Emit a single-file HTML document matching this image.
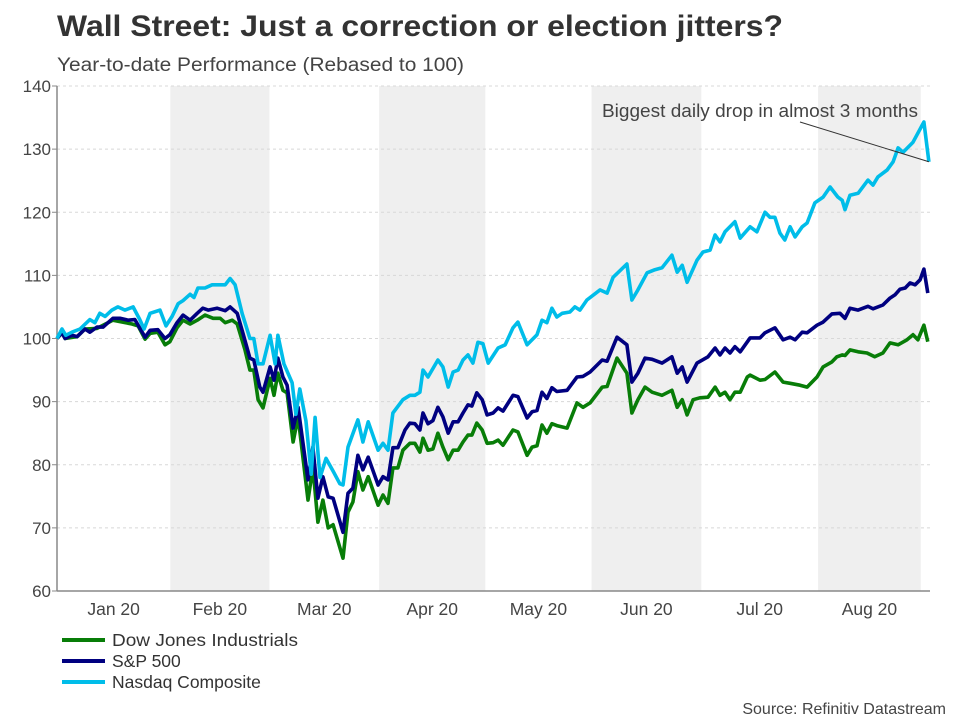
<!DOCTYPE html>
<html><head><meta charset="utf-8"><style>
body{margin:0;background:#fff;font-family:"Liberation Sans",sans-serif;}
svg{display:block}
</style></head><body>
<svg id="chart" width="960" height="720" viewBox="0 0 960 720" xmlns="http://www.w3.org/2000/svg">
<rect width="960" height="720" fill="#fff"/>
<text x="57" y="36" font-size="30" font-weight="bold" fill="#333" textLength="726" lengthAdjust="spacingAndGlyphs" font-family="Liberation Sans, sans-serif">Wall Street: Just a correction or election jitters?</text>
<text x="57" y="71" font-size="19" fill="#444" textLength="407" lengthAdjust="spacingAndGlyphs" font-family="Liberation Sans, sans-serif">Year-to-date Performance (Rebased to 100)</text>
<g id="bands"></g><g id="grid"></g><g id="axes"></g><g id="series"></g>
<text x="602" y="117" font-size="18.5" fill="#444" textLength="316" lengthAdjust="spacingAndGlyphs" font-family="Liberation Sans, sans-serif">Biggest daily drop in almost 3 months</text>
<g>
<line x1="62" y1="640" x2="105" y2="640" stroke="#087d08" stroke-width="4"/>
<text x="112" y="646" font-size="17.5" fill="#333" textLength="186" lengthAdjust="spacingAndGlyphs" font-family="Liberation Sans, sans-serif">Dow Jones Industrials</text>
<line x1="62" y1="661" x2="105" y2="661" stroke="#000080" stroke-width="4"/>
<text x="112" y="667" font-size="17.5" fill="#333" font-family="Liberation Sans, sans-serif">S&amp;P 500</text>
<line x1="62" y1="682" x2="105" y2="682" stroke="#00bde9" stroke-width="4"/>
<text x="112" y="688" font-size="17.5" fill="#333" font-family="Liberation Sans, sans-serif">Nasdaq Composite</text>
</g>
<text x="946" y="714" text-anchor="end" font-size="16" fill="#444" font-family="Liberation Sans, sans-serif">Source: Refinitiv Datastream</text>
</svg>
<script>
const yTicks=[60,70,80,90,100,110,120,130,140];
const monthLabels=["Jan 20","Feb 20","Mar 20","Apr 20","May 20","Jun 20","Jul 20","Aug 20"];
const monthStarts=[0,32,60,91,121,151,182,215,244];
const nasdaqDays=[0,1.4,2.5,4.2,6.5,9.3,10.7,12.1,13.6,15.5,17.2,19.2,21.5,23.4,24.6,26.3,29.1,30.8,32.5,34.2,35.6,37.6,38.7,39.8,41.8,43.8,47.5,48.9,50.3,52.3,54.5,55.6,56.8,58.2,60.2,61.6,62.4,64.1,66.4,67.5,68.6,70.3,71.8,72.9,74.3,76,78,79.9,80.8,82.2,85,86.4,87.9,90.7,92.1,93.5,94.9,97.7,99.7,101.1,102.5,103.4,104.8,107.6,109,110.5,111.9,113.3,114.7,116.1,117.5,118.9,120.3,121.8,124.6,126.6,128.8,130.2,132.8,135.6,137,138.4,139.8,141.2,142.7,144.9,146.3,147.7,149.7,153.4,155.4,157.1,161,162.4,164.1,166.7,168.9,170.9,173.7,175.2,176.6,178,180.8,182.5,184.5,185.9,187.3,188.7,191.5,193,195.8,197.7,200,201.4,202.8,204.2,205.6,207.1,208.5,210.5,211.9,214.1,216.4,218.4,220.6,221.8,222.6,224,226.3,229.1,230.5,231.9,234.5,236.2,237.6,239,241.8,244.9,246.3];
const nasdaqValues=[100,101.5,100.5,101,101.5,103,102.5,104,103.5,104.5,105,104.5,105,103,101.5,104,104.5,102,103.5,105.5,106,107,106.5,108,108,108.5,108.5,109.5,108.5,104,100,100,96,96,100.5,96,100.5,96,93,88,92,87,78.5,87.5,78,81,79,77,76.8,82.8,87.1,83.6,86.8,82.3,83.4,82.3,88.2,90.3,91,91,91.5,95,93.9,96.6,95.5,92.3,94.7,95,96.6,97.4,96.1,99.4,99.2,96.1,98.5,99,101.7,102.6,99,100.6,102.9,102.5,104.8,103.4,104,104.2,105,104.5,106.1,107.7,107.2,109.7,111.8,106.1,107.7,110.4,110.9,111.2,113.2,110.5,111.6,108.9,112.4,113.7,114,116.4,115.3,116.9,118.5,115.9,117.7,116.9,120,119.2,119.2,116.7,115.6,117.7,116.1,117.7,118.3,121.5,122.4,124,122.4,121.9,120.4,122.7,123,125.1,124.3,125.6,126.7,128,130.2,129.5,131.1,134.3,128];
const spDays=[0,1.4,2.3,4.2,5.7,7.9,9.3,11.3,13,15.8,17.8,20.1,22,24.9,26.3,28.5,30.5,31.9,33.9,35.6,37.6,39.6,41.2,42.7,45.2,47.5,48.9,50.9,52.5,54.5,55.6,57.3,58.2,60.2,61.3,62.4,63.8,65,66.7,68.1,70.9,72.3,73.7,75.1,76.6,78,80.8,82.2,83.6,85,86.4,87.9,90.7,92.1,93.5,94.9,96.3,98.3,99.7,101.1,102.5,103.4,104.8,106.2,107.6,109,110.5,111.9,113.3,114.7,116.1,117.2,118.6,120.1,121.5,123.2,124.6,126,128.8,130.2,132.8,134.2,135.6,137,138.4,139.8,141.2,144.1,146.9,148.6,150.6,154,155.4,158.2,161,162.4,164.1,166.1,168.1,170.9,173.7,175.2,176.6,178,180.8,183.9,185.9,187.3,188.7,190.1,191.5,193,195.8,198.6,200,202.8,205.1,207.1,208.5,210.5,211.9,214.7,216.4,218.9,221.2,222.6,224,226.3,229.1,230.5,233.3,235.3,236.7,238.1,239.6,241,242.4,243.8,244.9,246];
const spValues=[100,100.9,100,100.5,100.3,101.5,101,101.8,101.8,103.2,103.2,102.9,103,100.2,101.3,101.4,100,100.6,102.5,103.7,102.9,104,104.8,104.5,104.8,104.4,105,104,100.9,96.9,96.6,92.3,91.5,95.5,93.4,96.9,93.9,92.6,85.8,89.1,77.6,82.8,74.7,78.1,74.9,74.7,69.3,75.5,76.3,81.5,79.2,81.2,76.8,78.1,77.6,82.7,82.7,85.5,86.6,86.5,85.5,88.2,86.5,87,89.1,87.6,85,86.8,86.8,88.2,89.5,89.3,91.4,90.3,87.9,88.2,89,88.5,91,90.8,87.4,88.4,88.6,91.5,90.5,92.2,91.6,91.8,93.9,94,94.7,96.6,96.4,100.2,99,93.1,94.5,96.9,96.7,96.1,97.1,94.5,95.5,93.1,96.1,97.1,98.5,97.4,98.5,97.7,98.7,97.9,100.1,100.1,100.9,101.7,99.8,100.2,99.8,101,100.9,102.1,102.6,103.9,104,103.2,104.8,104.5,105.1,104.7,105.3,106.4,106.9,107.8,108,108.8,108.5,109.3,111,107.2];
const dowDays=[0,1.4,2.3,5.7,7.9,11.3,15.8,21.2,22.9,24.9,26.3,28.5,30.5,31.9,33.9,35.6,37.6,39.6,41.8,44.1,46.1,47.5,49.5,50.9,53.1,54.5,55.6,56.8,58.2,60.2,61.3,62.4,63.8,65,66.7,68.1,70.9,72.3,73.7,75.1,76.6,78,80.8,82.2,83.6,85,86.4,87.9,90.7,92.1,93.5,94.9,96.3,97.7,99.7,101.1,102.5,103.4,104.8,106.2,107.6,109,110.5,111.9,113.3,114.7,116.1,117.2,118.6,120.1,121.5,123.2,124.6,126,128.8,130.2,132.8,134.2,135.6,137,138.4,139.8,141.2,144.1,146.9,148.6,150.6,154,155.4,158.2,161,162.4,164.1,166.1,168.1,170.9,173.7,175.2,176.6,178,179.7,181.6,183.9,185.9,187.3,188.7,190.1,191.5,193,195,195.8,198.6,200,202.8,205.1,207.1,209.9,211.9,214.7,216.4,218.9,220.3,221.8,222.6,224,226.3,228.8,231,233.3,235.3,237.6,240.1,241.8,243.2,244.9,246];
const dowValues=[100,100.9,100,100.3,101.5,101.6,102.9,102.3,102,99.9,100.8,101,99,99.5,101.7,102.9,102.3,102.9,103.7,103.2,103.2,102.5,102.9,102.3,98.2,95,95,90.3,89,93.7,91,94.5,91.8,91.4,83.6,87.6,74.4,79.6,70.9,74.4,70,70.5,65.2,72.5,74.1,78.9,76,78.1,73.6,75.2,73.9,79.5,79.5,82.3,83.4,83.4,82,84.2,82.3,82.5,85,82.8,80.8,82.3,82.3,83.6,84.7,84.7,86.6,85.5,83.4,83.5,83.9,83.1,85.5,85.2,81.5,82.8,83,86.3,85,86.5,86.2,85.8,89.8,89.1,89.8,92.3,92.4,96.9,94.5,88.2,90.3,92.3,91.5,91,91.8,89.1,90.3,87.9,90.3,90.6,90.7,92.3,91,91.5,90.3,91.5,91.5,93.9,94.2,93.4,93.5,94.7,93.1,92.9,92.6,92.3,93.9,95.5,96.3,97.1,97.4,97.3,98.2,97.9,97.7,97.1,97.7,99.3,99,99.8,100.6,99.8,102.1,99.5];

const NS="http://www.w3.org/2000/svg";
const L=57,R=930,T=86,B=591;
const xS=d=>L+d*3.54;
const yS=v=>B-(v-60)*(B-T)/80;
function mk(tag,attrs,parent){const e=document.createElementNS(NS,tag);for(const k in attrs)e.setAttribute(k,attrs[k]);document.getElementById(parent).appendChild(e);return e;}
for(let i=1;i<monthStarts.length;i+=2){
  const x1=xS(monthStarts[i]),x2=i+1<monthStarts.length?xS(monthStarts[i+1]):R;
  const b=mk('rect',{x:x1,y:T,width:x2-x1,height:B-T,fill:'#efefef'},'bands');
  
  
}
yTicks.forEach(v=>{
  const g=mk('line',{x1:L,x2:R,y1:yS(v),y2:yS(v),stroke:'#d8d8d8','stroke-dasharray':'3,3','stroke-width':1},'grid');
  
  
  mk('line',{x1:L-5,x2:L,y1:yS(v),y2:yS(v),stroke:'#888'},'axes');
  const t=mk('text',{x:L-6,y:yS(v)+6,'text-anchor':'end','font-size':17,fill:'#444','font-family':'Liberation Sans, sans-serif'},'axes');
  t.textContent=v;
  
  
});
mk('line',{x1:L,x2:L,y1:T,y2:B,stroke:'#888','stroke-width':1.5},'axes');
mk('line',{x1:L,x2:R,y1:B,y2:B,stroke:'#888','stroke-width':1.5},'axes');
monthLabels.forEach((m,i)=>{
  const c=(xS(monthStarts[i])+xS(monthStarts[i+1]))/2;
  const t=mk('text',{x:c,y:B+24,'text-anchor':'middle','font-size':17.5,fill:'#444','font-family':'Liberation Sans, sans-serif'},'axes');
  t.textContent=m;
  
  
});
function line(days,vals,color,name){
  const d=days.map((x,i)=>(i?'L':'M')+xS(x).toFixed(1)+','+yS(vals[i]).toFixed(1)).join('');
  const p=mk('path',{d:d,fill:'none',stroke:color,'stroke-width':3.6,'stroke-linejoin':'round'},'series');
  
  
}
line(dowDays,dowValues,'#087d08','dow-line');
line(spDays,spValues,'#000080','sp500-line');
line(nasdaqDays,nasdaqValues,'#00bde9','nasdaq-line');
const lastD=nasdaqDays[nasdaqDays.length-1],lastV=nasdaqValues[nasdaqValues.length-1];
const a=mk('line',{x1:800,y1:122,x2:xS(lastD),y2:yS(lastV),stroke:'#333','stroke-width':1},'series');


</script>
</body></html>
